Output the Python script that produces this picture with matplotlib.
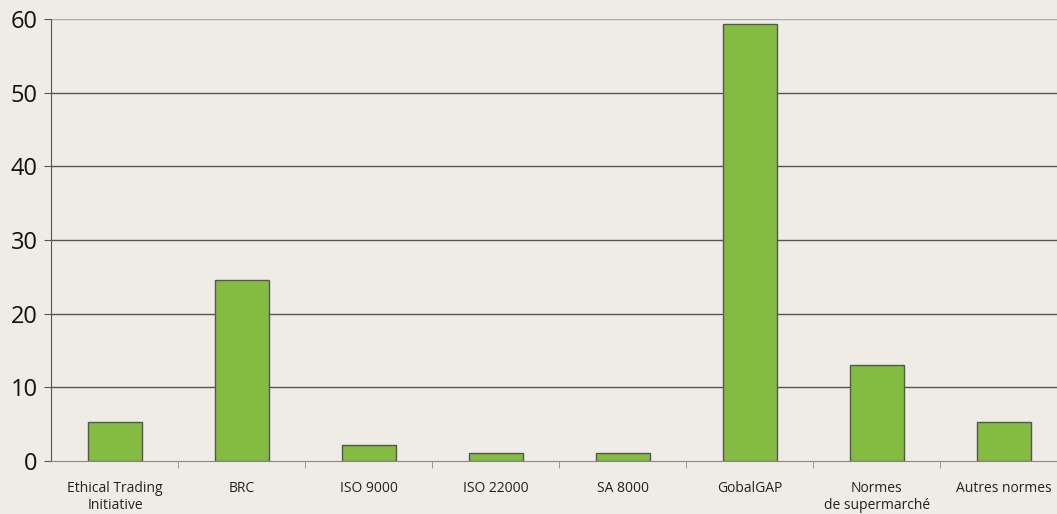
import matplotlib.pyplot as plt
import numpy as np

categories = ["Ethical Trading\nInitiative", "BRC", "ISO 9000", "ISO 22000", "SA 8000",
              "GobalGAP", "Normes\nde supermarché", "Autres normes"]
values = [5.3, 24.6, 2.2, 1.1, 1.1, 59.3, 13.0, 5.3]
yticks = [0, 10, 20, 30, 40, 50, 60]

bg = "#efece6"
plt.rcParams['font.family'] = ['Open Sans', 'DejaVu Sans']

fig = plt.figure(figsize=(10.57, 5.14), dpi=100, facecolor=bg)
ax = fig.add_axes([0.0487, 0.103, 0.9513, 0.860])
ax.set_facecolor(bg)

x = np.arange(len(categories))
ax.bar(x, values, width=0.425, color="#84bc41", edgecolor="#555555", linewidth=1, zorder=3)

# the last category is cut by the right edge of the picture
ax.set_xlim(-0.5, 7.42)
ax.set_ylim(0, 60)
ax.set_yticks(yticks)
ax.set_yticklabels([str(t) for t in yticks], fontsize=17, color="#111111")
for t in yticks[1:]:
    ax.axhline(t, color="#555555" if t < 60 else "#aaaaaa", linewidth=1, zorder=1)

# category labels centred, tick marks between categories
ax.set_xticks(x)
ax.set_xticklabels(categories, fontsize=10, color="#222222", linespacing=1.25)
ax.tick_params(axis="x", length=0, pad=14)
ax.set_xticks(np.arange(0.5, len(categories) - 0.5, 1), minor=True)
ax.tick_params(axis="x", which="minor", length=5, color="#888888", direction="out")
ax.tick_params(axis="y", length=5, color="#555555", pad=5)

for s in ["top", "right"]:
    ax.spines[s].set_visible(False)
ax.spines["left"].set_color("#555555")
ax.spines["bottom"].set_color("#888888")
ax.spines["bottom"].set_zorder(4)

fig.savefig("out.png", dpi=100, facecolor=bg)
